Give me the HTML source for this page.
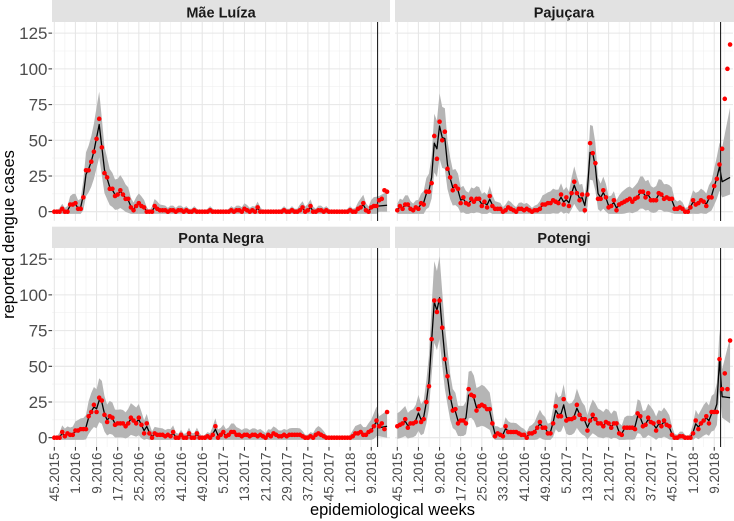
<!DOCTYPE html>
<html><head><meta charset="utf-8">
<style>
html,body{margin:0;padding:0;background:#fff;}
svg{display:block;font-family:"Liberation Sans",Arial,sans-serif;}
.yl{font-size:17px;fill:#4D4D4D;text-anchor:end;}
.xl{font-size:13.5px;fill:#4D4D4D;text-anchor:end;}
.st{font-size:14.5px;font-weight:bold;fill:#1A1A1A;text-anchor:middle;}
.ti{font-size:16.5px;fill:#000;text-anchor:middle;}
</style></head>
<body>
<svg id="s" width="734" height="521" viewBox="0 0 734 521" xmlns="http://www.w3.org/2000/svg">
<defs>
<clipPath id="cp0"><rect x="52" y="22" width="338" height="199"/></clipPath>
<clipPath id="cp1"><rect x="395" y="22" width="339" height="199"/></clipPath>
<clipPath id="cp2"><rect x="52" y="248" width="338" height="199"/></clipPath>
<clipPath id="cp3"><rect x="395" y="248" width="339" height="199"/></clipPath>
<g id="grid">
<path fill="none" stroke="#F0F0F0" stroke-width="0.6" d="M64.87 22V221M86 22V221M107.13 22V221M128.26 22V221M149.39 22V221M170.52 22V221M191.65 22V221M212.78 22V221M233.91 22V221M255.04 22V221M276.17 22V221M297.3 22V221M318.43 22V221M339.56 22V221M360.69 22V221M381.82 22V221M52 193.8H390M52 158.1H390M52 122.4H390M52 86.7H390M52 51H390"/>
<path fill="none" stroke="#E6E6E6" stroke-width="1.05" d="M54.3 22V221M75.43 22V221M96.56 22V221M117.69 22V221M138.82 22V221M159.95 22V221M181.08 22V221M202.21 22V221M223.34 22V221M244.47 22V221M265.6 22V221M286.73 22V221M307.86 22V221M328.99 22V221M350.12 22V221M371.25 22V221M52 211.7H390M52 176H390M52 140.3H390M52 104.6H390M52 68.9H390M52 33.1H390"/>
</g>
</defs>
<rect width="734" height="521" fill="#fff"/>
<use href="#grid"/>
<use href="#grid" x="343"/>
<use href="#grid" y="226"/>
<use href="#grid" x="343" y="226"/>

<rect x="52" y="0" width="338" height="22" fill="#E2E2E2"/>
<rect x="395" y="0" width="339" height="22" fill="#E2E2E2"/>
<rect x="52" y="226.7" width="338" height="21.3" fill="#E2E2E2"/>
<rect x="395" y="226.7" width="339" height="21.3" fill="#E2E2E2"/>
<text class="st" x="221" y="17.3">Mãe Luíza</text>
<text class="st" x="564" y="17.3">Pajuçara</text>
<text class="st" x="221" y="243">Ponta Negra</text>
<text class="st" x="564" y="243">Potengi</text>

<g id="dl"></g>

<path fill="none" stroke="#333" stroke-width="1.05" d="M48.5 211.7H52M48.5 176H52M48.5 140.3H52M48.5 104.6H52M48.5 68.9H52M48.5 33.1H52M48.5 437.7H52M48.5 402H52M48.5 366.3H52M48.5 330.6H52M48.5 294.9H52M48.5 259.1H52"/>
<path fill="none" stroke="#333" stroke-width="1.05" d="M54.3 447V450.6M75.43 447V450.6M96.56 447V450.6M117.69 447V450.6M138.82 447V450.6M159.95 447V450.6M181.08 447V450.6M202.21 447V450.6M223.34 447V450.6M244.47 447V450.6M265.6 447V450.6M286.73 447V450.6M307.86 447V450.6M328.99 447V450.6M350.12 447V450.6M371.25 447V450.6M397.3 447V450.6M418.43 447V450.6M439.56 447V450.6M460.69 447V450.6M481.82 447V450.6M502.95 447V450.6M524.08 447V450.6M545.21 447V450.6M566.34 447V450.6M587.47 447V450.6M608.6 447V450.6M629.73 447V450.6M650.86 447V450.6M671.99 447V450.6M693.12 447V450.6M714.25 447V450.6"/>

<text class="yl" x="47.5" y="211.7" dy="0.35em">0</text>
<text class="yl" x="47.5" y="176" dy="0.35em">25</text>
<text class="yl" x="47.5" y="140.3" dy="0.35em">50</text>
<text class="yl" x="47.5" y="104.6" dy="0.35em">75</text>
<text class="yl" x="47.5" y="68.9" dy="0.35em">100</text>
<text class="yl" x="47.5" y="33.1" dy="0.35em">125</text>
<text class="yl" x="47.5" y="437.7" dy="0.35em">0</text>
<text class="yl" x="47.5" y="402" dy="0.35em">25</text>
<text class="yl" x="47.5" y="366.3" dy="0.35em">50</text>
<text class="yl" x="47.5" y="330.6" dy="0.35em">75</text>
<text class="yl" x="47.5" y="294.9" dy="0.35em">100</text>
<text class="yl" x="47.5" y="259.1" dy="0.35em">125</text>

<text class="xl" transform="translate(54.3,452.5) rotate(-90)" dy="0.35em">45.2015</text>
<text class="xl" transform="translate(75.43,452.5) rotate(-90)" dy="0.35em">1.2016</text>
<text class="xl" transform="translate(96.56,452.5) rotate(-90)" dy="0.35em">9.2016</text>
<text class="xl" transform="translate(117.69,452.5) rotate(-90)" dy="0.35em">17.2016</text>
<text class="xl" transform="translate(138.82,452.5) rotate(-90)" dy="0.35em">25.2016</text>
<text class="xl" transform="translate(159.95,452.5) rotate(-90)" dy="0.35em">33.2016</text>
<text class="xl" transform="translate(181.08,452.5) rotate(-90)" dy="0.35em">41.2016</text>
<text class="xl" transform="translate(202.21,452.5) rotate(-90)" dy="0.35em">49.2016</text>
<text class="xl" transform="translate(223.34,452.5) rotate(-90)" dy="0.35em">5.2017</text>
<text class="xl" transform="translate(244.47,452.5) rotate(-90)" dy="0.35em">13.2017</text>
<text class="xl" transform="translate(265.6,452.5) rotate(-90)" dy="0.35em">21.2017</text>
<text class="xl" transform="translate(286.73,452.5) rotate(-90)" dy="0.35em">29.2017</text>
<text class="xl" transform="translate(307.86,452.5) rotate(-90)" dy="0.35em">37.2017</text>
<text class="xl" transform="translate(328.99,452.5) rotate(-90)" dy="0.35em">45.2017</text>
<text class="xl" transform="translate(350.12,452.5) rotate(-90)" dy="0.35em">1.2018</text>
<text class="xl" transform="translate(371.25,452.5) rotate(-90)" dy="0.35em">9.2018</text>
<text class="xl" transform="translate(397.3,452.5) rotate(-90)" dy="0.35em">45.2015</text>
<text class="xl" transform="translate(418.43,452.5) rotate(-90)" dy="0.35em">1.2016</text>
<text class="xl" transform="translate(439.56,452.5) rotate(-90)" dy="0.35em">9.2016</text>
<text class="xl" transform="translate(460.69,452.5) rotate(-90)" dy="0.35em">17.2016</text>
<text class="xl" transform="translate(481.82,452.5) rotate(-90)" dy="0.35em">25.2016</text>
<text class="xl" transform="translate(502.95,452.5) rotate(-90)" dy="0.35em">33.2016</text>
<text class="xl" transform="translate(524.08,452.5) rotate(-90)" dy="0.35em">41.2016</text>
<text class="xl" transform="translate(545.21,452.5) rotate(-90)" dy="0.35em">49.2016</text>
<text class="xl" transform="translate(566.34,452.5) rotate(-90)" dy="0.35em">5.2017</text>
<text class="xl" transform="translate(587.47,452.5) rotate(-90)" dy="0.35em">13.2017</text>
<text class="xl" transform="translate(608.6,452.5) rotate(-90)" dy="0.35em">21.2017</text>
<text class="xl" transform="translate(629.73,452.5) rotate(-90)" dy="0.35em">29.2017</text>
<text class="xl" transform="translate(650.86,452.5) rotate(-90)" dy="0.35em">37.2017</text>
<text class="xl" transform="translate(671.99,452.5) rotate(-90)" dy="0.35em">45.2017</text>
<text class="xl" transform="translate(693.12,452.5) rotate(-90)" dy="0.35em">1.2018</text>
<text class="xl" transform="translate(714.25,452.5) rotate(-90)" dy="0.35em">9.2018</text>

<text class="ti" x="392.5" y="515">epidemiological weeks</text>
<text class="ti" transform="translate(14,234.5) rotate(-90)">reported dengue cases</text>
</svg>
<script>
(function(){
var S=2.641,K=1.4286,VX=122.4;
var P=[
{ox:0,z:211.7,top:22,fc:[4,4.5,0,0,11,14],ov:{17:61},d:[
0,0,0,2,0,0,5,5,6,2,
2,10,29,29,35,42,51,65,45,27,
24,16,16,11,12,15,12,9,9,3,
1,4,6,4,3,0,0,0,4,2,
1,1,1,0,1,1,0,1,1,0,
1,0,0,1,0,0,0,0,0,1,
0,0,0,0,0,0,0,1,0,1,
1,0,2,1,0,1,0,3,0,0,
0,0,0,0,0,0,0,1,0,0,
1,0,0,1,3,0,1,4,0,0,
1,1,0,1,0,0,0,0,0,0,
0,0,1,0,0,2,3,6,1,0,
3,4,4,8,9,15,14]},
{ox:343,z:211.7,top:22,fc:[21,24,10,12,45,73],ov:{14:48,15:44,16:60,17:52},d:[
1,4,2,5,5,2,1,3,2,6,
5,14,14,20,53,37,63,50,56,30,
24,15,18,16,6,10,6,5,9,7,
9,9,4,7,3,11,4,2,2,2,
0,1,3,2,1,0,2,2,1,2,
1,0,1,1,2,5,5,6,6,8,
7,6,12,5,10,4,13,21,13,8,
12,1,12,48,41,34,9,9,15,10,
3,4,8,1,5,6,7,8,9,7,
9,10,14,14,10,13,8,8,8,13,
12,9,10,9,9,2,2,3,2,0,
0,3,8,5,6,8,7,4,10,10,
18,23,33,44,79,100,117]},
{ox:0,z:437.7,top:248,fc:[7,8,1,0,15,19],d:[
0,0,0,4,1,3,2,2,5,5,
6,6,6,15,18,23,18,28,26,16,
11,15,14,9,10,10,10,8,10,14,
12,10,14,9,3,10,3,0,3,2,
2,2,1,2,1,4,0,0,2,0,
0,3,0,0,3,0,0,0,1,0,
2,8,0,2,4,1,2,4,4,2,
2,1,2,2,1,2,2,1,2,1,
0,2,1,3,2,1,1,2,1,2,
2,2,2,2,1,0,0,1,0,2,
3,2,1,0,0,0,0,0,0,0,
0,0,0,1,3,3,4,2,2,4,
5,8,12,8,10,6,18]},
{ox:343,z:437.7,top:248,fc:[28.7,28,14,10,48,70],ov:{14:95,15:89,16:98,122:54},d:[
8,9,10,13,7,10,10,11,20,11,
13,25,36,69,96,88,96,77,55,43,
28,19,20,10,12,12,10,34,30,29,
19,22,23,22,20,20,10,1,3,2,
1,8,4,4,4,4,3,2,2,0,
3,3,4,7,11,7,7,3,3,10,
22,15,15,27,12,13,13,14,23,16,
13,13,5,12,16,13,10,10,8,11,
10,7,10,10,3,2,7,7,7,7,
6,17,15,8,9,14,11,10,5,11,
8,12,9,8,2,0,0,1,1,0,
0,0,3,12,6,10,12,15,10,18,
18,18,55,34,45,34,68]}
];
var NS='http://www.w3.org/2000/svg';
var root=document.getElementById('dl');
function el(t,a){var e=document.createElementNS(NS,t);for(var k in a)e.setAttribute(k,a[k]);return e;}
P.forEach(function(p,pi){
  var d=p.d,n=d.length,f=[],lo=[],hi=[],i;
  for(i=0;i<n;i++){
    if(i<=122){
      var a=d[Math.max(0,i-1)],b=d[i],c=d[Math.min(122,i+1)];
      var v=0.15*a+0.7*b+0.15*c;
      if(p.ov&&p.ov[i]!=null)v=p.ov[i];
      var w=0.8+2.85*Math.sqrt(Math.max(v,0));
      f[i]=v;lo[i]=Math.max(v-w,-1.5);hi[i]=v+w;
    }else{
      var t=(i-123)/3;
      f[i]=p.fc[0]+(p.fc[1]-p.fc[0])*t;
      lo[i]=p.fc[2]+(p.fc[3]-p.fc[2])*t;
      hi[i]=p.fc[4]+(p.fc[5]-p.fc[4])*t;
    }
  }
  function X(i){return (54.3+p.ox+S*i).toFixed(2);}
  function Y(v){return (p.z-K*v).toFixed(2);}
  var g=el('g',{'clip-path':'url(#cp'+pi+')'});
  var rb='M';
  for(i=0;i<n;i++)rb+=(i?'L':'')+X(i)+' '+Y(hi[i]);
  for(i=n-1;i>=0;i--)rb+='L'+X(i)+' '+Y(lo[i]);
  g.appendChild(el('path',{d:rb+'Z',fill:'#B5B5B5'}));
  var ln='';
  for(i=0;i<n;i++)ln+=(i?'L':'M')+X(i)+' '+Y(f[i]);
  g.appendChild(el('path',{d:ln,fill:'none',stroke:'#000','stroke-width':1.3,'stroke-linejoin':'round'}));
  var vx=(54.3+p.ox+S*VX).toFixed(2);
  g.appendChild(el('line',{x1:vx,x2:vx,y1:p.top,y2:p.top+199,stroke:'#222','stroke-width':1.1}));
  for(i=0;i<n;i++)g.appendChild(el('circle',{cx:X(i),cy:Y(d[i]),r:2.3,fill:'#F00'}));
  root.appendChild(g);
});
})();
</script>
</body></html>
